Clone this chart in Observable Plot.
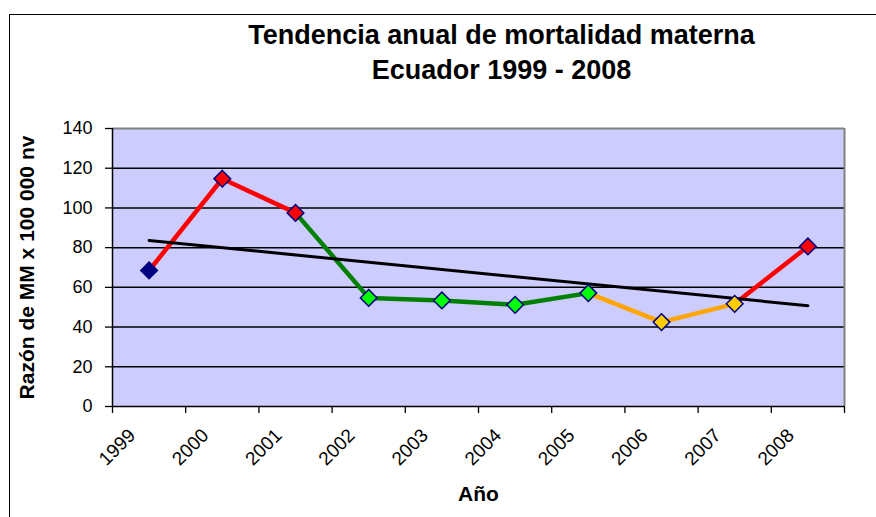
<!DOCTYPE html>
<html><head><meta charset="utf-8">
<script src="https://cdn.jsdelivr.net/npm/d3@7"></script>
<script src="https://cdn.jsdelivr.net/npm/@observablehq/plot@0.6"></script>
<style>
body{margin:0;background:#fff;}
#wrap{position:relative;width:876px;height:517px;overflow:hidden;}
#border{position:absolute;left:9px;top:14px;width:900px;height:600px;border:1.5px solid #000;box-sizing:border-box;}
#chart{position:absolute;left:0;top:0;}
</style></head><body>
<div id="wrap"><div id="border"></div><div id="chart"></div></div>
<script>
const years = ["1999","2000","2001","2002","2003","2004","2005","2006","2007","2008"];
const values = [68.5,114.7,97.5,54.7,53.4,51.2,57.1,42.5,51.7,80.6];
const segmentColors = ["#ff0000","#ff0000","#008000","#008000","#008000","#008000","#ffa500","#ffa500","#ff0000"];
const markerColors = ["#000080","#ff0000","#ff0000","#00ff00","#00ff00","#00ff00","#00ff00","#ffcc00","#ffcc00","#ff0000"];
const yTicks = [0,20,40,60,80,100,120,140];
const xTickBounds = [1999,2000,2001,2002,2003,2004,2005,2006,2007,2008,2009];
const titleLines = ["Tendencia anual de mortalidad materna","Ecuador 1999 - 2008"];
const yLabel = "Razón de MM x 100 000 nv";
const xLabel = "Año";

const points = years.map((y,i)=>({year:+y, x:+y+0.5, value:values[i], fill:markerColors[i]}));
const segments = points.slice(0,-1).map((p,i)=>({x1:p.x, y1:p.value, x2:points[i+1].x, y2:points[i+1].value, color:segmentColors[i]}));

const chart = Plot.plot({
  width:876, height:517,
  marginLeft:112, marginRight:32, marginTop:128, marginBottom:111,
  x:{domain:[1999,2009]},
  y:{domain:[0,140]},
  style:{fontFamily:"'Liberation Sans', Arial, sans-serif", background:"transparent", color:"#000"},
  marks:[
    Plot.frame({fill:"#ccccff", stroke:"none"}),
    Plot.gridY(yTicks.filter(v=>v>0 && v<140), {stroke:"#000", strokeOpacity:1, strokeWidth:1.5}),
    Plot.ruleY([140], {stroke:"#808080", strokeWidth:2}),
    Plot.ruleX([2009], {stroke:"#808080", strokeWidth:2}),
    Plot.ruleX([1999], {stroke:"#000", strokeWidth:1.5}),
    Plot.ruleY([0], {stroke:"#000", strokeWidth:1.5}),
    Plot.axisY(yTicks, {tickSize:7, tickPadding:13, fontSize:18, stroke:"#000", strokeWidth:1.3, fill:"#000", label:null}),
    Plot.axisX(xTickBounds, {tickSize:7, tickFormat:()=>"", stroke:"#000", strokeWidth:1.3, label:null}),
    Plot.text(years, {x:d=>+d, frameAnchor:"bottom", text:d=>d, rotate:-45, textAnchor:"end", lineAnchor:"bottom", dx:24, dy:30, fontSize:19, fill:"#000"}),
    Plot.link(segments, {x1:"x1", y1:"y1", x2:"x2", y2:"y2", stroke:"color", strokeWidth:4.5}),
    Plot.linearRegressionY(points, {x:"x", y:"value", stroke:"#000", strokeWidth:3, ci:0}),
    Plot.dot(points, {x:"x", y:"value", fill:"fill", stroke:"#000080", strokeWidth:1.5, symbol:"diamond2", r:7.5}),
    Plot.text([yLabel], {frameAnchor:"left", text:d=>d, rotate:-90, dx:-79, textAnchor:"middle", lineAnchor:"bottom", fontWeight:"bold", fontSize:21, fill:"#000"}),
    Plot.text([xLabel], {frameAnchor:"bottom", text:d=>d, dy:94, lineAnchor:"bottom", fontWeight:"bold", fontSize:21, fill:"#000"}),
    Plot.text([titleLines.join("\n")], {frameAnchor:"top", text:d=>d, dx:23, dy:-50, lineAnchor:"bottom", lineHeight:1.27, fontWeight:"bold", fontSize:27, fill:"#000"})
  ]
});
document.getElementById("chart").appendChild(chart);
</script>
</body></html>
